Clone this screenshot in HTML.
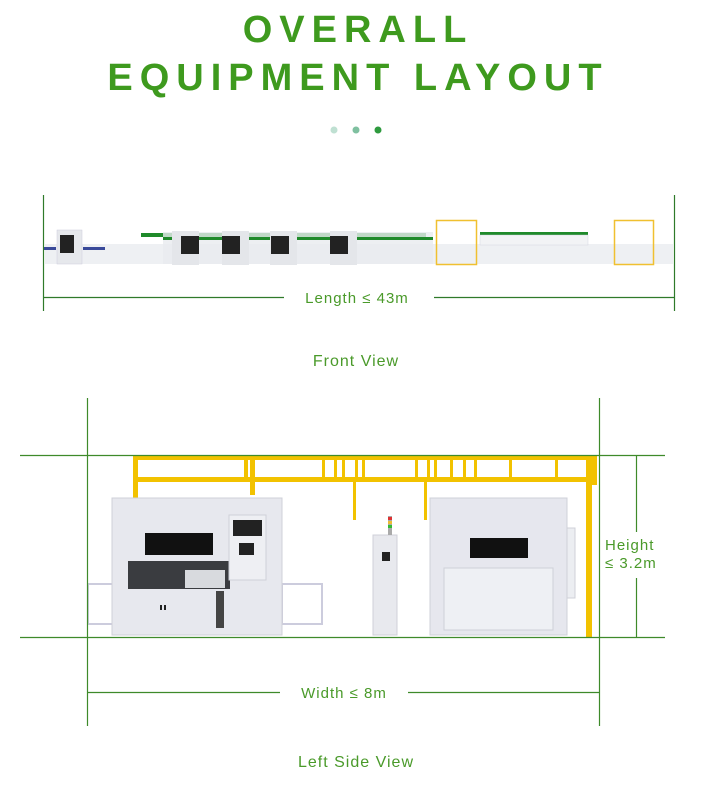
<!DOCTYPE html>
<html><head><style>
body{margin:0;background:#fff;width:704px;height:789px;overflow:hidden;font-family:"Liberation Sans",sans-serif}
</style></head><body>
<svg width="704" height="789" viewBox="0 0 704 789" xmlns="http://www.w3.org/2000/svg">
<g font-family="Liberation Sans, sans-serif" fill="#3e9a1e" font-weight="bold" text-anchor="middle">
<text x="358" y="42" font-size="38" letter-spacing="7">OVERALL</text>
<text x="358" y="90" font-size="38" letter-spacing="7">EQUIPMENT LAYOUT</text>
</g>
<circle cx="334" cy="130" r="3.5" fill="#bfe0d2"/>
<circle cx="356" cy="130" r="3.5" fill="#7fc0a0"/>
<circle cx="378" cy="130" r="3.5" fill="#2e9a3e"/>

<!-- front view -->
<g stroke="#2f7a2a" stroke-width="1.2">
<line x1="43.5" y1="195" x2="43.5" y2="311"/>
<line x1="674.5" y1="195" x2="674.5" y2="311"/>
<line x1="43" y1="297.5" x2="284" y2="297.5"/>
<line x1="434" y1="297.5" x2="675" y2="297.5"/>
</g>
<text x="357" y="303" font-size="15" fill="#4a9a2a" text-anchor="middle" letter-spacing="1">Length ≤ 43m</text>
<g>
<rect x="45" y="244" width="628" height="20" fill="#eef0f3"/>
<rect x="57" y="230" width="25" height="34" fill="#e6e8ec" stroke="#ccd" stroke-width=".5"/>
<rect x="60" y="235" width="14" height="18" fill="#222"/>
<rect x="44" y="247" width="12" height="3" fill="#3a4a9a"/>
<rect x="83" y="247" width="22" height="3" fill="#3a4a9a"/>
<rect x="141" y="233" width="285" height="4" fill="#1f8a2a"/>
<rect x="163" y="232" width="270" height="32" fill="#e9ebef" opacity=".8"/>
<rect x="163" y="237" width="270" height="3" fill="#1f8a2a"/>
<rect x="172" y="231" width="27" height="34" fill="#e4e6ea"/>
<rect x="181" y="236" width="18" height="18" fill="#222"/>
<rect x="222" y="231" width="27" height="34" fill="#e4e6ea"/>
<rect x="222" y="236" width="18" height="18" fill="#222"/>
<rect x="270" y="231" width="27" height="34" fill="#e4e6ea"/>
<rect x="271" y="236" width="18" height="18" fill="#222"/>
<rect x="330" y="231" width="27" height="34" fill="#e4e6ea"/>
<rect x="330" y="236" width="18" height="18" fill="#222"/>
<rect x="480" y="232" width="108" height="3" fill="#1f8a2a"/>
<rect x="480" y="235" width="108" height="10" fill="#f2f3f5" stroke="#ccd" stroke-width=".4"/>
<rect x="436.5" y="220.5" width="40" height="44" fill="none" stroke="#f0c030" stroke-width="1.5"/>
<rect x="614.5" y="220.5" width="39" height="44" fill="none" stroke="#f0c030" stroke-width="1.5"/>
</g>
<text x="356" y="366" font-size="16" fill="#4a9a2a" text-anchor="middle" letter-spacing="1">Front View</text>

<!-- side view -->
<g fill="#f2c200">
<rect x="133" y="455" width="464" height="5"/>
<rect x="137" y="477" width="455" height="5"/>
<rect x="133" y="455" width="5" height="45"/>
<rect x="586" y="455" width="6" height="182"/>
<rect x="592" y="455" width="5" height="30"/>
<rect x="244" y="455" width="4" height="27"/><rect x="250" y="455" width="5" height="40"/>
<rect x="322" y="455" width="3" height="27"/><rect x="334" y="455" width="3" height="27"/><rect x="342" y="455" width="3" height="27"/><rect x="355" y="455" width="3" height="27"/><rect x="362" y="455" width="3" height="27"/>
<rect x="353" y="482" width="3" height="38"/><rect x="415" y="455" width="3" height="27"/><rect x="427" y="455" width="3" height="27"/><rect x="434" y="455" width="3" height="27"/><rect x="450" y="455" width="3" height="27"/><rect x="463" y="455" width="3" height="27"/><rect x="474" y="455" width="3" height="27"/><rect x="424" y="482" width="3" height="38"/><rect x="509" y="455" width="3" height="27"/><rect x="555" y="455" width="3" height="27"/>
</g>
<!-- left machine -->
<rect x="88" y="584" width="52" height="40" fill="none" stroke="#ccd" stroke-width="2"/>
<rect x="282" y="584" width="40" height="40" fill="none" stroke="#ccd" stroke-width="2"/>
<rect x="112" y="498" width="170" height="137" fill="#e7e8ee" stroke="#cfd0d8"/>
<rect x="145" y="533" width="68" height="22" fill="#111"/>
<rect x="128" y="561" width="102" height="28" fill="#3a3c40"/>
<rect x="185" y="570" width="40" height="18" fill="#d8dade"/>
<rect x="229" y="515" width="37" height="65" fill="#eeeff3" stroke="#cfd0d8"/>
<rect x="233" y="520" width="29" height="16" fill="#222"/>
<rect x="239" y="543" width="15" height="12" fill="#222"/>
<rect x="216" y="591" width="8" height="37" fill="#444"/>
<rect x="160" y="605" width="2" height="5" fill="#222"/><rect x="164" y="605" width="2" height="5" fill="#222"/>
<!-- middle cabinet -->
<rect x="373" y="535" width="24" height="100" fill="#e8e9ee" stroke="#cfd0d8"/>
<rect x="382" y="552" width="8" height="9" fill="#222"/>
<rect x="388" y="516" width="4" height="19" fill="#aaa"/>
<rect x="388" y="517" width="4" height="3" fill="#d33"/><rect x="388" y="521" width="4" height="3" fill="#eb3"/><rect x="388" y="525" width="4" height="3" fill="#3b3"/>
<!-- right machine -->
<rect x="430" y="498" width="137" height="137" fill="#e6e7ee" stroke="#cfd0d8"/>
<rect x="567" y="528" width="8" height="70" fill="#eceef2" stroke="#cfd0d8"/>
<rect x="470" y="538" width="58" height="20" fill="#111"/>
<rect x="444" y="568" width="109" height="62" fill="#eef0f4" stroke="#cfd0d8"/>
<!-- dimension lines -->
<g stroke="#3e8a2a" stroke-width="1.2">
<line x1="20" y1="455.5" x2="665" y2="455.5"/>
<line x1="20" y1="637.5" x2="665" y2="637.5"/>
<line x1="87.5" y1="398" x2="87.5" y2="726"/>
<line x1="599.5" y1="398" x2="599.5" y2="726"/>
<line x1="636.5" y1="455" x2="636.5" y2="532"/>
<line x1="636.5" y1="578" x2="636.5" y2="637"/>
<line x1="87" y1="692.5" x2="280" y2="692.5"/>
<line x1="408" y1="692.5" x2="600" y2="692.5"/>
</g>
<g font-size="15" fill="#4a9a2a" letter-spacing="1">
<text x="605" y="550">Height</text>
<text x="605" y="568">≤ 3.2m</text>
<text x="344" y="698" text-anchor="middle">Width ≤ 8m</text>
<text x="356" y="767" font-size="16" text-anchor="middle">Left Side View</text>
</g>
</svg>
</body></html>
